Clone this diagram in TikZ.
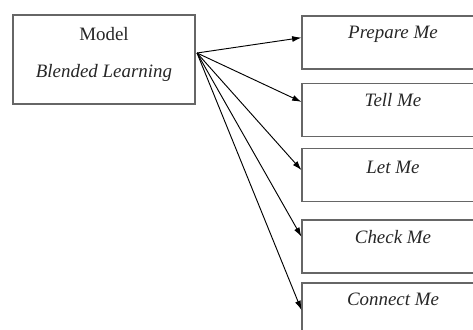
\documentclass[tikz,border=0pt]{standalone}
\usepackage{fontspec}
\setmainfont{Liberation Serif}
\usetikzlibrary{arrows.meta,calc}
\begin{document}
\begin{tikzpicture}[x=0.75pt,y=-0.75pt,
  box/.style={draw=black!60,line width=0.8pt,rectangle,minimum width=136.5pt,inner sep=0pt},
  rbox/.style={box,minimum height=39.75pt},
  lbl/.style={font=\fontsize{14.2}{16}\selectfont\itshape,text=black!85,inner sep=0pt},
  arr/.style={draw=black,line width=0.7pt,-{Latex[length=7pt,width=4.5pt]}}]
\useasboundingbox (0,0) rectangle (473,329);
\clip (0,0) rectangle (473,329);
\node[box,minimum height=66.75pt] (model) at (104,59.5) {};
\node[lbl,font=\fontsize{14.2}{16}\selectfont,anchor=center] (mt) at (104,34) {Model};
\node[lbl] (bl) at (104,73) {Blended Learning};
\coordinate (o) at (197,53);
\node[rbox] (pm) at (393,42.5) {};
\node[rbox] (tm) at (393,110) {};
\node[rbox] (lm) at (393,175) {};
\node[rbox] (cm) at (393,246.5) {};
\node[rbox] (nm) at (393,309.5) {};
\node[lbl] at ([yshift=-13.8pt]pm.north) {Prepare Me};
\node[lbl] at ([yshift=-12.8pt]tm.north) {Tell Me};
\node[lbl] at ([yshift=-14.2pt]lm.north) {Let Me};
\node[lbl] at ([yshift=-13.5pt]cm.north) {Check Me};
\node[lbl] at ([yshift=-12.8pt]nm.north) {Connect Me};
\draw[arr] (o) -- ($(pm.north west)!0.41!(pm.south west)$);
\draw[arr] (o) -- ($(tm.north west)!0.35!(tm.south west)$);
\draw[arr] (o) -- ($(lm.north west)!0.41!(lm.south west)$);
\draw[arr] (o) -- ($(cm.north west)!0.32!(cm.south west)$);
\draw[arr] (o) -- ($(nm.north west)!0.51!(nm.south west)$);
\end{tikzpicture}
\end{document}
